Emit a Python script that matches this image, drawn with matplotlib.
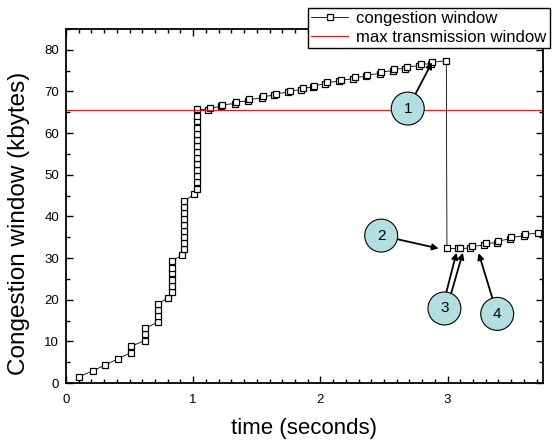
import matplotlib
matplotlib.use("Agg")
import matplotlib.pyplot as plt
from matplotlib.ticker import MultipleLocator

plt.rcParams['font.family'] = ['Liberation Sans', 'DejaVu Sans']

# slow start (time s, cwnd kbytes)
ss_time = [0.10, 0.21, 0.31, 0.41,
           0.51, 0.51,
           0.62, 0.62, 0.62,
           0.72, 0.72, 0.72, 0.72,
           0.80,
           0.83, 0.83, 0.83, 0.83, 0.83, 0.83,
           0.91,
           0.93, 0.93, 0.93, 0.93, 0.93, 0.93, 0.93, 0.93, 0.93,
           1.01,
           1.03, 1.03, 1.03, 1.03, 1.03, 1.03, 1.03, 1.03, 1.03, 1.03, 1.03, 1.03, 1.03, 1.03]
ss_cwnd = [1.5, 2.9, 4.4, 5.8,
           7.3, 8.8,
           10.2, 11.7, 13.1,
           14.6, 16.1, 17.5, 19.0,
           20.4,
           21.9, 23.4, 24.8, 26.3, 27.7, 29.2,
           30.7,
           32.1, 33.6, 35.0, 36.5, 38.0, 39.4, 40.9, 42.3, 43.8,
           45.3,
           46.7, 48.2, 49.6, 51.1, 52.6, 54.0, 55.5, 56.9, 58.4, 59.8, 61.3, 62.8, 64.2, 65.7]

# congestion avoidance, pairs of acks close together
ca_time = [1.118, 1.13, 1.218, 1.23, 1.328, 1.34, 1.428, 1.44, 1.538, 1.55,
           1.638, 1.65, 1.748, 1.76, 1.848, 1.86, 1.938, 1.95, 2.038, 2.05,
           2.148, 2.16, 2.258, 2.27, 2.358, 2.37, 2.468, 2.48, 2.568, 2.58,
           2.668, 2.68, 2.778, 2.79, 2.868, 2.88, 2.99]
ca_cwnd = [65.6, 66.0, 66.4, 66.8, 67.1, 67.5, 67.7, 68.1, 68.4, 68.8,
           69.1, 69.5, 69.8, 70.2, 70.4, 70.8, 71.0, 71.4, 71.8, 72.2,
           72.4, 72.8, 73.0, 73.4, 73.6, 74.0, 74.3, 74.7, 75.0, 75.4,
           75.5, 75.9, 76.2, 76.6, 76.6, 77.0, 77.4]

# after the loss
fr_time = [2.995, 3.08, 3.10, 3.178, 3.19, 3.288, 3.30, 3.388, 3.40,
           3.488, 3.50, 3.598, 3.61, 3.71]
fr_cwnd = [32.3, 32.3, 32.3, 32.4, 32.8, 33.1, 33.5, 33.7, 34.1,
           34.6, 35.0, 35.3, 35.7, 36.0]

max_window = 65.5

time = ss_time + ca_time + fr_time
cwnd = ss_cwnd + ca_cwnd + fr_cwnd

# callouts: label, circle centre, arrow targets
callouts = [
    ('1', (2.687, 65.9), [(2.878, 77.0)]),
    ('2', (2.478, 35.4), [(2.93, 32.3)]),
    ('3', (2.975, 17.9), [(3.07, 31.3), (3.12, 31.3)]),
    ('4', (3.39, 16.6), [(3.244, 31.2)]),
]

fig = plt.figure(figsize=(5.56, 4.43), dpi=100)
ax = fig.add_axes([0.1187, 0.1354, 0.8579, 0.7991])

ax.plot(time, cwnd, color='black', lw=0.6, marker='s', ms=5,
        mfc='white', mec='black', mew=0.9, label='congestion window')
ax.axhline(max_window, color='#e02020', lw=0.9, label='max transmission window')

ax.set_xlim(0, 3.75)
ax.set_ylim(0, 85)
ax.xaxis.set_major_locator(MultipleLocator(1))
ax.xaxis.set_minor_locator(MultipleLocator(0.1))
ax.yaxis.set_major_locator(MultipleLocator(10))
ax.yaxis.set_minor_locator(MultipleLocator(5))
ax.tick_params(which='both', direction='in', top=True, right=True, labelsize=9.5)
ax.tick_params(which='major', length=5, width=1)
ax.tick_params(which='minor', length=3, width=1)
ax.tick_params(axis='x', which='major', pad=8)
ax.tick_params(axis='y', which='major', pad=5)
for s in ax.spines.values():
    s.set_linewidth(1.3)

ax.set_xlabel('time (seconds)', fontsize=16)
ax.set_ylabel('Congestion window (kbytes)', fontsize=17.5)
ax.xaxis.set_label_coords(0.5, -0.098)
ax.yaxis.set_label_coords(-0.075, 0.45)

arrow = dict(arrowstyle='-|>', color='black', lw=1.3, mutation_scale=9,
             shrinkA=0, shrinkB=0)
circle = dict(boxstyle='circle,pad=0.62', fc='#b4dfe0', ec='black', lw=0.8)
for label, centre, targets in callouts:
    if len(targets) == 1:
        ax.annotate(label, xy=targets[0], xytext=centre, ha='center', va='center',
                    fontsize=11, bbox=circle, arrowprops=arrow, zorder=5)
    else:
        for tx, ty in targets:
            ax.annotate('', xy=(tx, ty), xytext=(centre[0] + (tx - 3.07) * 0.8 + 0.01, centre[1] + 3.3),
                        arrowprops=arrow, zorder=4)
        ax.text(centre[0], centre[1], label, ha='center', va='center',
                fontsize=11, bbox=circle, zorder=5)

fig.legend(loc='upper left', bbox_to_anchor=(0.554, 0.982), fontsize=12,
           frameon=True, fancybox=False, edgecolor='black', framealpha=1,
           handlelength=2.2, borderpad=0.2, labelspacing=0.2, handletextpad=0.5,
           borderaxespad=0)

fig.savefig('out.png', dpi=100)
